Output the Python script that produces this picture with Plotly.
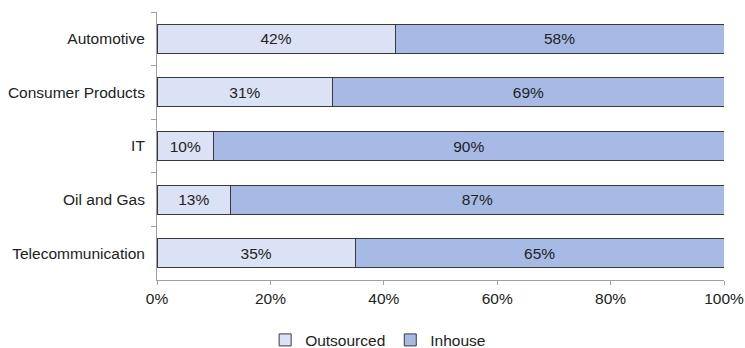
import plotly.graph_objects as go

categories = ["Automotive", "Consumer Products", "IT", "Oil and Gas", "Telecommunication"]
outsourced = [42, 31, 10, 13, 35]
inhouse = [58, 69, 90, 87, 65]
tick_vals = [0, 20, 40, 60, 80, 100]
tick_text = ["0%", "20%", "40%", "60%", "80%", "100%"]

FS = 15.5

fig = go.Figure()
fig.add_trace(go.Bar(
    y=categories, x=outsourced, orientation="h", name="Outsourced",
    marker=dict(color="#DCE2F6", line=dict(color="#3a3a3a", width=1)),
    text=[f"{v}%" for v in outsourced], textposition="inside", insidetextanchor="middle",
    textfont=dict(color="#222222", size=FS), hoverinfo="skip",
))
fig.add_trace(go.Bar(
    y=categories, x=inhouse, orientation="h", name="Inhouse",
    marker=dict(color="#A7BAE6", line=dict(color="#3a3a3a", width=1)),
    text=[f"{v}%" for v in inhouse], textposition="inside", insidetextanchor="middle",
    textfont=dict(color="#222222", size=FS), hoverinfo="skip",
))

fig.update_layout(
    barmode="stack", bargap=0.46,
    width=745, height=348,
    margin=dict(l=157, r=21, t=12, b=68, autoexpand=False),
    paper_bgcolor="white", plot_bgcolor="white",
    font=dict(family="Liberation Sans, Arial, sans-serif", size=FS, color="#222222"),
    uniformtext=dict(minsize=FS, mode="show"),
    legend=dict(orientation="h", x=0.39, xanchor="center", yref="container",
                y=0.022, yanchor="middle",
                font=dict(size=FS), traceorder="normal", itemwidth=30,
                tracegroupgap=0),
    showlegend=True,
)
fig.update_xaxes(range=[0, 100], tickvals=tick_vals, ticktext=tick_text, automargin=False,
                 showgrid=False, zeroline=False, showline=True, linecolor="#a0a0a0",
                 ticks="outside", ticklen=4, tickcolor="#a0a0a0", fixedrange=True)
fig.update_yaxes(autorange="reversed", showgrid=False, showline=True, linecolor="#a0a0a0",
                 ticks="outside", ticklen=5, tickcolor="#a0a0a0", tickson="boundaries",
                 ticklabelstandoff=8, automargin=False)

fig.write_html("out.html")
